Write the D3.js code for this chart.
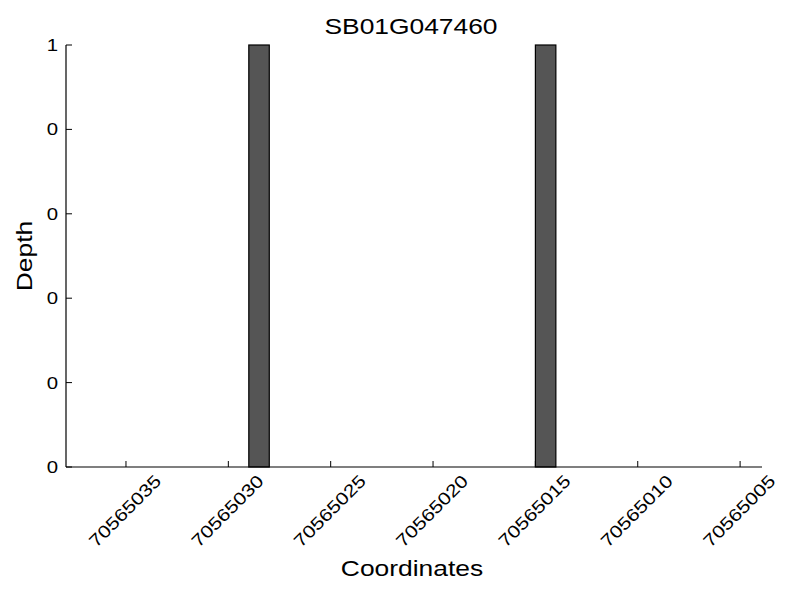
<!DOCTYPE html>
<html>
<head>
<meta charset="utf-8">
<script src="https://cdn.jsdelivr.net/npm/d3@7"></script>
<style>
  body { margin: 0; background: #fff; }
  text { font-family: "Liberation Sans", Arial, sans-serif; fill: #000; }
</style>
</head>
<body>
<svg id="chart" width="800" height="600"></svg>
<script>
// data
var title = "SB01G047460";
var coords = [70565029, 70565015];   // bar start coordinate (bar covers 1 bp)
var depths = [1, 1];
var xTicks = [70565035, 70565030, 70565025, 70565020, 70565015, 70565010, 70565005];
var yTicks = [0, 0.2, 0.4, 0.6, 0.8, 1];
var yTickLabels = ["0", "0", "0", "0", "0", "1"];

var svg = d3.select("#chart"),
    plotLeft = 66, plotRight = 762, plotTop = 45, plotBottom = 467,
    stretch = 1.2;

// reversed coordinate axis
var x = d3.scaleLinear()
    .domain([70565037.93, 70565003.93])
    .range([plotLeft, plotRight]);

var y = d3.scaleLinear()
    .domain([0, 1])
    .range([plotBottom, plotTop]);

// bars
svg.append("g")
    .selectAll("rect")
    .data(coords)
    .enter()
    .append("rect")
    .attr("x", function (d) { return x(d); })
    .attr("width", function (d) { return x(d - 1) - x(d); })
    .attr("y", function (d, i) { return y(depths[i]); })
    .attr("height", function (d, i) { return y(0) - y(depths[i]); })
    .attr("fill", "#555555")
    .attr("stroke", "#000")
    .attr("stroke-width", 1.2);

// y axis
var yAxis = svg.append("g").attr("transform", "translate(" + plotLeft + ",0)");
yAxis.append("line")
    .attr("y1", plotTop).attr("y2", plotBottom)
    .attr("stroke", "#000").attr("stroke-width", 1.2);
yAxis.selectAll("line.tick")
    .data(yTicks)
    .enter()
    .append("line")
    .attr("class", "tick")
    .attr("x1", 0).attr("x2", 6)
    .attr("y1", function (d) { return y(d); })
    .attr("y2", function (d) { return y(d); })
    .attr("stroke", "#000");
yAxis.selectAll("text")
    .data(yTicks)
    .enter()
    .append("text")
    .attr("transform", function (d) { return "translate(-8," + (y(d) + 6) + ") scale(" + stretch + ",1)"; })
    .attr("text-anchor", "end")
    .style("font-size", "17px")
    .text(function (d, i) { return yTickLabels[i]; });

// x axis
var xAxis = svg.append("g").attr("transform", "translate(0," + plotBottom + ")");
xAxis.append("line")
    .attr("x1", plotLeft).attr("x2", plotRight)
    .attr("stroke", "#000").attr("stroke-width", 1.2);
xAxis.selectAll("line.tick")
    .data(xTicks)
    .enter()
    .append("line")
    .attr("class", "tick")
    .attr("x1", function (d) { return x(d); })
    .attr("x2", function (d) { return x(d); })
    .attr("y1", 0).attr("y2", -6)
    .attr("stroke", "#000");
xAxis.selectAll("text")
    .data(xTicks)
    .enter()
    .append("text")
    .attr("transform", function (d) { return "translate(" + (x(d) - 1) + ",44) rotate(-45) scale(" + stretch + ",1)"; })
    .attr("text-anchor", "middle")
    .attr("dy", "0.35em")
    .style("font-size", "17.5px")
    .text(function (d) { return d; });

// title and labels
svg.append("text")
    .attr("transform", "translate(411,34) scale(" + stretch + ",1)")
    .attr("text-anchor", "middle")
    .style("font-size", "22px")
    .text(title);

svg.append("text")
    .attr("transform", "translate(412,576) scale(" + stretch + ",1)")
    .attr("text-anchor", "middle")
    .style("font-size", "22px")
    .text("Coordinates");

svg.append("text")
    .attr("transform", "translate(32,256) rotate(-90) scale(" + stretch + ",1)")
    .attr("text-anchor", "middle")
    .style("font-size", "22px")
    .text("Depth");
</script>
</body>
</html>
